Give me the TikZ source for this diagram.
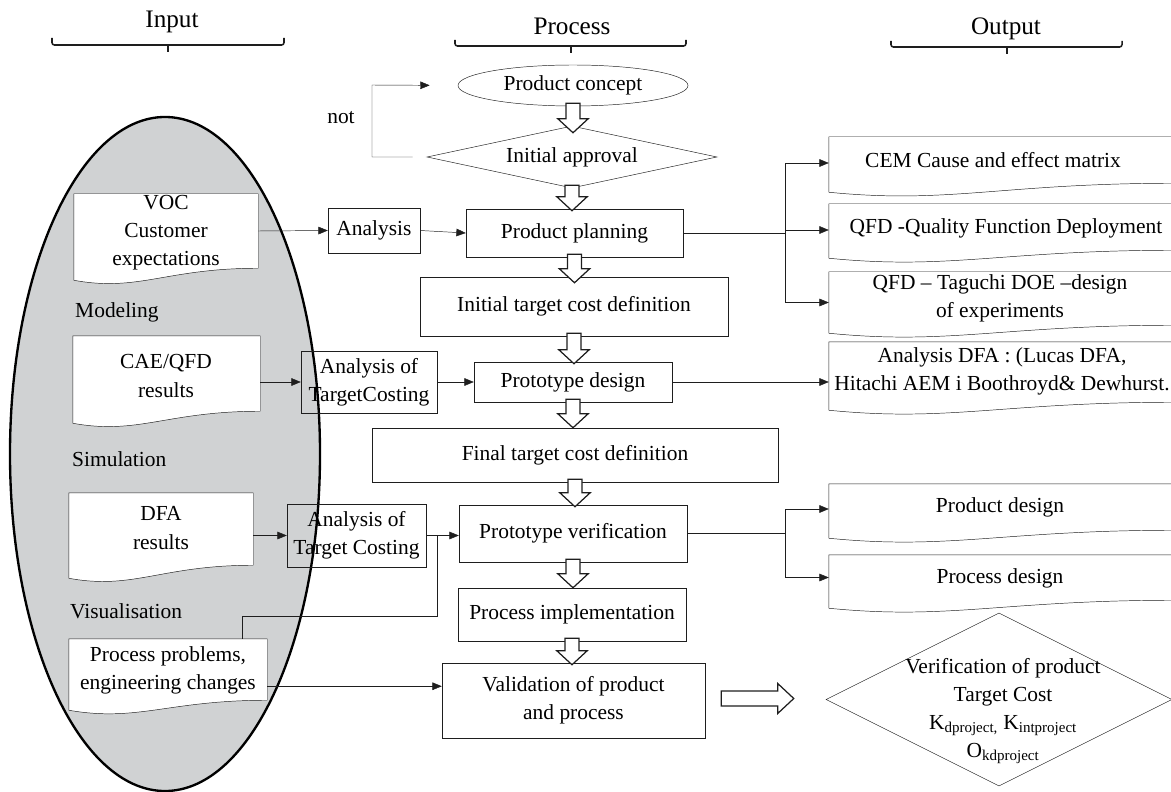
\documentclass[tikz,border=0pt]{standalone}
\usepackage{fontspec}
\setmainfont{Liberation Serif}
\usetikzlibrary{shapes.geometric,arrows.meta,calc}
\definecolor{ellgray}{RGB}{208,210,211}
\definecolor{lncol}{RGB}{30,30,30}
\pgfdeclarelayer{ell}
\pgfdeclarelayer{bg}
\pgfsetlayers{ell,bg,main}
\newcommand\wavy[2]{\begin{pgfonlayer}{bg}\draw[draw=lncol, fill=white] (#1.north west) -- (#1.north east) -- (#1.south east) .. controls ($(#1.south east)!0.5!(#1.south west)$) and ($(#1.south east)!0.65!(#1.south west)+(0,#2+12)$) .. ($(#1.south west)+(0,#2)$) -- cycle;\end{pgfonlayer}}
\newcommand\hdown[3]{\draw[hollow] let \p1=($(#1.south)+(0,-3)$), \p2=($(#2.north)+(0,#3)$) in (\x1-6pt,\y1) -- (\x1+6pt,\y1) -- (\x1+6pt,\y2+12pt) -- (\x1+13pt,\y2+12pt) -- (\x1,\y2) -- (\x1-13pt,\y2+12pt) -- (\x1-6pt,\y2+12pt) -- cycle;}
\begin{document}
\begin{tikzpicture}[x=0.03cm,y=-0.03cm,
  font=\fontsize{18.3}{24}\selectfont,
  line width=1.05pt,
  bx/.style n args={2}{draw=lncol, rectangle, inner sep=0pt, minimum width=#1*0.03cm, minimum height=#2*0.03cm, align=center},
  doc/.style n args={2}{rectangle, inner sep=0pt, minimum width=#1*0.03cm, minimum height=#2*0.03cm},
  txt/.style={inner sep=0pt, align=center},
  conn/.style={draw=lncol},
  arr/.style={draw=lncol, -{Triangle[length=8pt,width=6.5pt]}},
  hollow/.style={draw=lncol, fill=white, line width=1.05pt, line join=miter},
  hdr/.style={inner sep=0pt, font=\fontsize{21.5}{26}\selectfont},
]
\useasboundingbox (0,0) rectangle (1171,792);
\clip (0,0) rectangle (1171,792);

% gray ellipse
\begin{pgfonlayer}{ell}
\draw[line width=2pt, fill=ellgray] (165,454) ellipse [x radius=4.65cm, y radius=10.11cm];
\end{pgfonlayer}

% headers
\node[hdr, anchor=base] (hin) at (172,28) {Input};
\node[hdr, anchor=base] (hpr) at (572,35) {Process};
\node[hdr, anchor=base] (hout) at (1006,35) {Output};
\draw[conn, line width=1.3pt, rounded corners=2pt] (52,38) |- (284,45) -- (284,38);
\draw[conn, line width=1.3pt] (168,45) -- (168,52);
\draw[conn, line width=1.3pt, rounded corners=2pt] (455,40) |- (686,46) -- (686,40);
\draw[conn, line width=1.3pt] (571,46) -- (571,53);
\draw[conn, line width=1.3pt, rounded corners=2pt] (891,41) |- (1122,47) -- (1122,41);
\draw[conn, line width=1.3pt] (1007,47) -- (1007,54);

% process column
\node[draw=lncol, ellipse, inner sep=0pt, minimum width=230*0.03cm, minimum height=41*0.03cm] (concept) at (573,85.5) {Product concept};
\node[draw=lncol, diamond, inner sep=0pt, minimum width=290*0.03cm, minimum height=62*0.03cm] (appr) at (572,157) {};
\node[txt] (apprt) at (appr.center) {Initial approval};
\node[bx={217}{48}] (pp) at (574.5,233) {Product planning};
\node[bx={308}{59}] (itc) at (574,306.5) {Initial target cost definition};
\node[bx={198}{40}] (pd) at (573,382) {Prototype design};
\node[bx={406}{54}] (ftc) at (575,455) {Final target cost definition};
\node[bx={228}{57}] (pv) at (573,533.5) {Prototype verification};
\node[bx={228}{53}] (pi) at (572,614.5) {Process implementation};
\node[bx={263}{75}] (val) at (573.5,700.5) {Validation of product\\and process};

% analysis boxes
\node[bx={92}{45}] (ana) at (374,230.5) {Analysis};
\node[bx={136}{62}] (atc1) at (369,382) {Analysis of\\TargetCosting};
\node[bx={139}{63}] (atc2) at (356.5,535.5) {Analysis of\\Target Costing};

% input documents
\node[doc={184}{74}] (voc) at (166,231) {};
\wavy{voc}{12}
\node[txt] (voct) at (166,233) {VOC\\Customer\\expectations};
\node[doc={187}{75}] (cae) at (166.5,373.5) {};
\wavy{cae}{12}
\node[txt] (caet) at (166,376) {CAE/QFD\\results};
\node[doc={184}{72}] (dfa) at (161,529) {};
\wavy{dfa}{13}
\node[txt] (dfat) at (161,528) {DFA\\results};
\node[doc={198}{61}] (ppc) at (168,669.5) {};
\wavy{ppc}{10}
\node[txt] (ppct) at (168,670) {Process problems,\\engineering changes};

% labels
\node[txt, anchor=base west] (lmod) at (75,318) {Modeling};
\node[txt, anchor=base west] (lsim) at (72,466) {Simulation};
\node[txt, anchor=base west] (lvis) at (70,618) {Visualisation};
\node[txt, anchor=base] (lnot) at (341,124) {not};

% output documents
\node[doc={346}{46}] (cem) at (1002,160) {};
\wavy{cem}{9}
\node[txt] (cemt) at (993,160) {CEM Cause and effect matrix};
\node[doc={346}{46}] (qfd) at (1002,227) {};
\wavy{qfd}{8}
\node[txt] (qfdt) at (1006,228) {QFD -Quality Function Deployment};
\node[doc={346}{53}] (tag) at (1002,298.5) {};
\wavy{tag}{8}
\node[txt] (tagt) at (1000,298) {QFD – Taguchi DOE –design\\of experiments};
\node[doc={346}{60}] (adfa) at (1002,372) {};
\wavy{adfa}{8}
\node[txt] (adfat) at (1002,371) {Analysis DFA : (Lucas DFA,\\Hitachi AEM i Boothroyd\& Dewhurst.};
\node[doc={346}{46}] (prd) at (1002,507) {};
\wavy{prd}{8}
\node[txt] (prdt) at (1000,507) {Product design};
\node[doc={346}{45}] (prc) at (1002,577.5) {};
\wavy{prc}{8}
\node[txt] (prct) at (1000,578) {Process design};

% verification diamond
\node[draw=lncol, diamond, inner sep=0pt, minimum width=346*0.03cm, minimum height=173*0.03cm] (verif) at (999,699.5) {};
\node[txt] (veriftxt) at (1003,711) {Verification of product\\Target Cost\\K\textsubscript{dproject,} K\textsubscript{intproject}\\O\textsubscript{kdproject}};

% connectors
\coordinate (nc) at (372,85);
\draw[arr, shorten <=12pt, shorten >=24pt] (appr.west) -| (nc) -- (concept.west);
\draw[arr] (voc.east) -- (ana.west);
\draw[arr] (ana.east) -- (pp.west);
\draw[arr] (cae.east |- atc1.west) -- (atc1.west);
\draw[arr] (atc1.east) -- (atc1.east -| pd.west);
\draw[arr] (dfa.east |- atc2.west) -- (atc2.west);
\draw[arr] (atc2.east) -- (atc2.east -| pv.west);
\coordinate (ppcn) at ($(ppc.north west)!0.874!(ppc.north east)$);
\coordinate (jn) at ($(atc2.east)+(11,0)$);
\draw[conn] (ppcn) -- ++(0,-23) -| (jn);
\coordinate (ppce) at ($(ppc.south east)+(0,-14)$);
\draw[arr] (ppce) -- (ppce -| val.west);
\draw[conn] (pp.east) -- ++(101.5,0) coordinate (b1);
\draw[arr] (b1) |- ($(cem.west)+(0,3)$);
\draw[arr] (b1) |- ($(qfd.west)+(0,3)$);
\draw[arr] (b1) |- ($(tag.west)+(0,4)$);
\draw[arr] (pd.east) -- (pd.east -| adfa.west);
\draw[conn] (pv.east) -- ++(98,0) coordinate (b2);
\draw[arr] (b2) |- ($(prd.west)+(0,2)$);
\draw[arr] (b2) |- (prc.west);

% hollow arrows
\hdown{concept}{appr}{7}
\hdown{appr}{pp}{2}
\hdown{pp}{itc}{6}
\hdown{itc}{pd}{2}
\hdown{pd}{ftc}{0}
\hdown{ftc}{pv}{2}
\hdown{pv}{pi}{0}
\hdown{pi}{val}{2}
\draw[hollow] let \p1=($(val.east)+(16,-2)$), \p2=($(verif.west)+(-32,0)$) in (\x1,\y1+6.4pt) -- (\x2-13.7pt,\y1+6.4pt) -- (\x2-13.7pt,\y1+12.8pt) -- (\x2,\y1) -- (\x2-13.7pt,\y1-12.8pt) -- (\x2-13.7pt,\y1-6.4pt) -- (\x1,\y1-6.4pt) -- cycle;
\end{tikzpicture}
\end{document}
